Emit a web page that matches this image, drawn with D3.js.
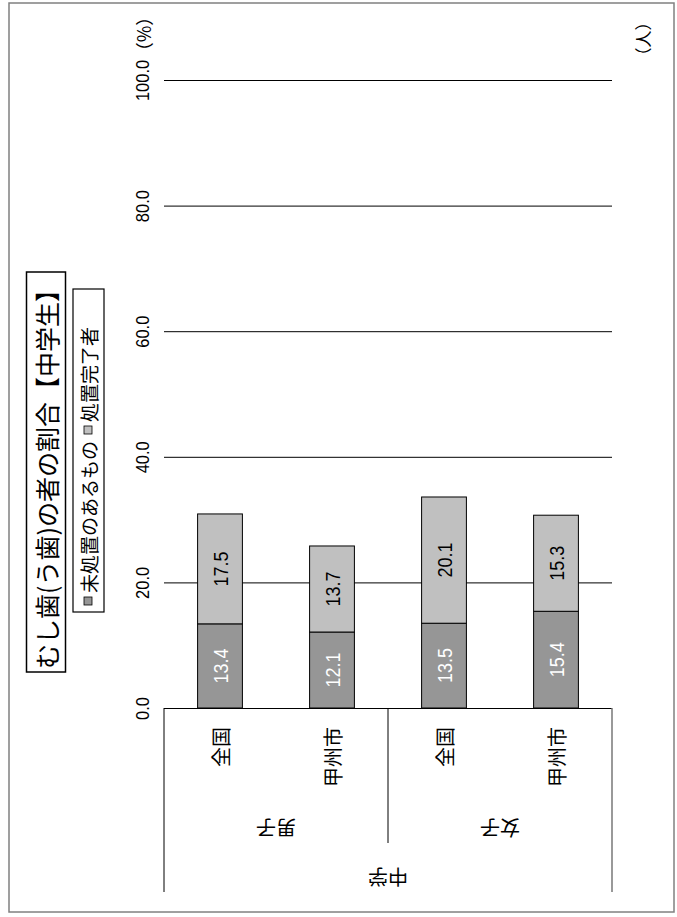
<!DOCTYPE html>
<html><head><meta charset="utf-8">
<script src="https://cdn.jsdelivr.net/npm/d3@7"></script>
<style>
html,body{margin:0;padding:0;background:#fff;}
svg{display:block;}
.jp{font-family:"Noto Sans CJK JP","Noto Sans",sans-serif;}
.num{font-family:"Liberation Sans",Arial,sans-serif;}
</style></head>
<body>
<svg id="chart" width="677" height="917"></svg>
<script>
const title = "むし歯(う歯)の者の割合【中学生】";
const seriesNames = ["未処置のあるもの", "処置完了者"];
const categories = ["全国", "甲州市", "全国", "甲州市"];
const groups = ["男子", "女子"];
const level = "中学";
const untreated = [13.4, 12.1, 13.5, 15.4];
const treated = [17.5, 13.7, 20.1, 15.3];
const tickValues = [0, 20, 40, 60, 80, 100];
const unitLeft = "（%）";
const unitRight = "（人）";
const colors = ["#969696", "#c0c0c0"];

const svg = d3.select("#chart");

// outer frame
svg.append("rect").attr("x", 9).attr("y", 3).attr("width", 665).attr("height", 909)
  .attr("fill", "none").attr("stroke", "#808080").attr("stroke-width", 1.5);

const pLeft = 164, pRight = 612, pTop = 80, pBase = 708;
const y = d3.scaleLinear().domain([0, 100]).range([pBase, pTop]);
const x = d3.scaleBand().domain(d3.range(categories.length)).range([pLeft, pRight])
  .paddingInner(0.6).paddingOuter(0.3);

// grid + axis
const axis = d3.axisLeft(y).tickValues(tickValues).tickSize(-(pRight - pLeft)).tickFormat(d3.format(".1f"));
const ag = svg.append("g").attr("transform", `translate(${pLeft},0)`).call(axis);
ag.select(".domain").remove();
ag.selectAll(".tick line").attr("stroke", "#000").attr("stroke-width", 1);
ag.selectAll(".tick text")
  .attr("class", "num").attr("x", null).attr("dy", null)
  .attr("transform", "translate(-21.5,0) rotate(-90) scale(1,1.12)")
  .attr("text-anchor", "middle").attr("dominant-baseline", "central")
  .attr("font-size", 16.5).attr("fill", "#000");

svg.append("text").attr("class", "jp").attr("font-size", 18)
  .attr("transform", `translate(142.5,${y(100) - 46}) rotate(-90)`)
  .attr("text-anchor", "middle").attr("dominant-baseline", "central").text(unitLeft);
svg.append("text").attr("class", "jp").attr("font-size", 17)
  .attr("transform", `translate(642,39) rotate(-90)`)
  .attr("text-anchor", "middle").attr("dominant-baseline", "central").text(unitRight);

// stacked bars
const rows = categories.map((c, i) => ({ i, a: untreated[i], b: treated[i] }));
const stack = d3.stack().keys(["a", "b"])(rows);
stack.forEach((layer, k) => {
  const g = svg.append("g");
  g.selectAll("rect").data(layer).enter().append("rect")
    .attr("x", d => x(d.data.i)).attr("width", x.bandwidth())
    .attr("y", d => y(d[1])).attr("height", d => y(d[0]) - y(d[1]))
    .attr("fill", colors[k]).attr("stroke", "#000").attr("stroke-width", 1);
  g.selectAll("text").data(layer).enter().append("text")
    .attr("class", "num").attr("font-size", 18)
    .attr("fill", k === 0 ? "#fff" : "#000")
    .attr("text-anchor", "middle").attr("dominant-baseline", "central")
    .attr("transform", d => `translate(${x(d.data.i) + x.bandwidth() / 2},${(y(d[0]) + y(d[1])) / 2}) rotate(-90) scale(1,1.17)`)
    .text(d => d3.format(".1f")(d[1] - d[0]));
});

// category box
const mid = (pLeft + pRight) / 2;
svg.append("line").attr("x1", pLeft).attr("x2", pLeft).attr("y1", pBase).attr("y2", 892).attr("stroke", "#000");
svg.append("line").attr("x1", pRight).attr("x2", pRight).attr("y1", pBase).attr("y2", 892).attr("stroke", "#777").attr("stroke-width", 1.5);
svg.append("line").attr("x1", mid).attr("x2", mid).attr("y1", pBase).attr("y2", 843).attr("stroke", "#000");

// inner category labels (rotated -90, right-aligned to axis)
categories.forEach((c, i) => {
  const cx = x(i) + x.bandwidth() / 2;
  svg.append("text").attr("class", "jp").attr("font-size", 20)
    .attr("text-anchor", "end").attr("dominant-baseline", "central")
    .attr("transform", `translate(${cx},727) rotate(-90)`).text(c);
});
// outer labels (rotated 180)
groups.forEach((g, j) => {
  const cx = j === 0 ? (pLeft + mid) / 2 : (mid + pRight) / 2;
  svg.append("text").attr("class", "jp").attr("font-size", 20)
    .attr("text-anchor", "middle").attr("dominant-baseline", "central")
    .attr("transform", `translate(${cx},828) rotate(180)`).text(g);
});
svg.append("text").attr("class", "jp").attr("font-size", 20)
  .attr("text-anchor", "middle").attr("dominant-baseline", "central")
  .attr("transform", `translate(${mid},877) rotate(180)`).text(level);

// title
svg.append("rect").attr("x", 26.5).attr("y", 272).attr("width", 39).attr("height", 400)
  .attr("fill", "#fff").attr("stroke", "#000").attr("stroke-width", 1.5);
svg.append("text").attr("class", "jp").attr("font-size", 25)
  .attr("text-anchor", "middle").attr("dominant-baseline", "central")
  .attr("transform", `translate(46,473) rotate(-90)`).text(title);

// legend
svg.append("rect").attr("x", 73).attr("y", 289).attr("width", 31).attr("height", 323)
  .attr("fill", "#fff").attr("stroke", "#000").attr("stroke-width", 1.2);
const legStarts = [605, 434];
seriesNames.forEach((s, k) => {
  const y0 = legStarts[k];
  svg.append("rect").attr("x", 84).attr("y", y0 - 8).attr("width", 8).attr("height", 8)
    .attr("fill", colors[k]).attr("stroke", "#000").attr("stroke-width", 0.8);
  svg.append("text").attr("class", "jp").attr("font-size", 19)
    .attr("text-anchor", "start").attr("dominant-baseline", "central")
    .attr("transform", `translate(88.5,${y0 - 12}) rotate(-90)`).text(s);
});
</script>
</body></html>
